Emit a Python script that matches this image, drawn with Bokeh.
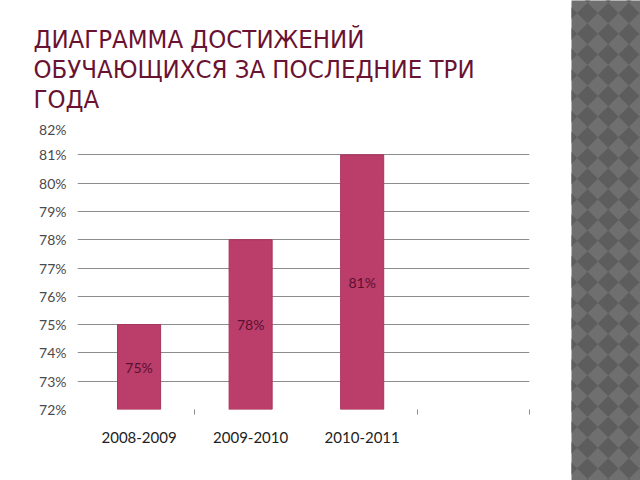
import numpy as np
from bokeh.plotting import figure
from bokeh.layouts import row, column
from bokeh.models import Range1d, FixedTicker, ColumnDataSource
from bokeh.core.properties import value
from bokeh.embed import file_html
from bokeh.resources import INLINE

# ---- data ----
title_lines = ["ДИАГРАММА ДОСТИЖЕНИЙ", "ОБУЧАЮЩИХСЯ ЗА ПОСЛЕДНИЕ ТРИ", "ГОДА"]
categories = ["2008-2009", "2009-2010", "2010-2011", ""]
values = [75, 78, 81]
y_ticks = [72, 73, 74, 75, 76, 77, 78, 79, 80, 81, 82]
boundary_ticks = [1, 3, 4]

BAR = "#bb3d6a"
TITLE_COLOR = "#6a1232"
FONT = value("Lato")

# ---- title figure (pixel coordinates) ----
TH = 120
tf = figure(width=571, height=TH, x_range=Range1d(0, 571), y_range=Range1d(TH, 0),
            x_axis_type=None, y_axis_type=None,
            output_backend="svg", toolbar_location=None, min_border=0,
            min_border_left=0, min_border_right=0, min_border_top=0, min_border_bottom=0)
tf.grid.visible = False
tf.outline_line_color = None
tsrc = ColumnDataSource(dict(x=[33] * len(title_lines), y=[38, 68, 98], t=title_lines))
tf.text(x="x", y="y", text="t", source=tsrc, text_font=value("DejaVu Sans Condensed"),
        text_font_size="25.5px", text_color=TITLE_COLOR, text_baseline="alphabetic",
        text_align="left")

# ---- chart figure ----
x = [i + 0.5 for i in range(len(values))]
src = ColumnDataSource(dict(x=x, top=values, mid=[(72 + v) / 2 for v in values],
                            lab=[f"{v}%" for v in values]))

p = figure(width=571, height=480 - TH, x_range=Range1d(-0.052, 4.0), y_range=Range1d(72, 82),
           output_backend="svg", toolbar_location=None, title=None,
           min_border_left=77, min_border_right=42, min_border_top=126 - TH, min_border_bottom=71)
p.outline_line_color = None

p.xgrid.visible = False
p.ygrid.ticker = FixedTicker(ticks=y_ticks)
p.ygrid.grid_line_color = "#8c8c8c"
p.ygrid.grid_line_width = 1

p.yaxis.ticker = FixedTicker(ticks=y_ticks)
p.yaxis.major_label_overrides = {t: f"{t}%" for t in y_ticks}
p.yaxis.axis_line_color = None
p.yaxis.major_tick_line_color = None
p.yaxis.minor_tick_line_color = None
p.yaxis.major_label_text_font = "Lato"
p.yaxis.major_label_text_font_size = "14px"
p.yaxis.major_label_text_color = "#4a4a4a"
p.yaxis.major_label_standoff = 5

label_pos = [i + 0.5 for i in range(len(categories))]
p.xaxis.ticker = FixedTicker(ticks=label_pos, minor_ticks=boundary_ticks)
p.xaxis.major_label_overrides = {pos: c for pos, c in zip(label_pos, categories)}
p.xaxis.axis_line_color = None
p.xaxis.major_tick_line_color = None
p.xaxis.minor_tick_line_color = "#8c8c8c"
p.xaxis.minor_tick_in = 0
p.xaxis.minor_tick_out = 5
p.xaxis.major_label_text_font = "Lato"
p.xaxis.major_label_text_font_size = "15px"
p.xaxis.major_label_text_color = "#222222"
p.xaxis.major_label_standoff = 16

p.vbar(x="x", top="top", bottom=72, width=0.386, source=src, fill_color=BAR,
       line_color="#a8345d", line_width=1)
p.text(x="x", y="mid", text="lab", source=src, text_align="center", text_baseline="middle",
       text_font=FONT, text_font_size="14px", text_color="#5a1030")

# ---- decorative strip ----
sw, sh = 69, 480
sf = figure(width=sw, height=sh, x_range=Range1d(0, sw), y_range=Range1d(0, sh),
            x_axis_type=None, y_axis_type=None,
            output_backend="svg", toolbar_location=None, min_border=0,
            min_border_left=0, min_border_right=0, min_border_top=0, min_border_bottom=0)
sf.grid.visible = False
sf.outline_line_color = None
sf.background_fill_color = "#6f6f6f"
sf.border_fill_color = "#6f6f6f"
d = 20.7
xs, ys = [], []
for cx in np.arange(16 - 2 * d, sw + d, d):
    for cy in np.arange(12 - 2 * d, sh + d, d):
        h = d / 2
        xs.append([cx - h, cx, cx + h, cx])
        ys.append([cy, cy + h, cy, cy - h])
sf.patches(xs, ys, fill_color="#5d5d5d", line_color=None)

layout = row(column(column(tf, spacing=0), p, spacing=0), column(sf, spacing=0), spacing=0)
open("out.html", "w").write(file_html(layout, INLINE))
